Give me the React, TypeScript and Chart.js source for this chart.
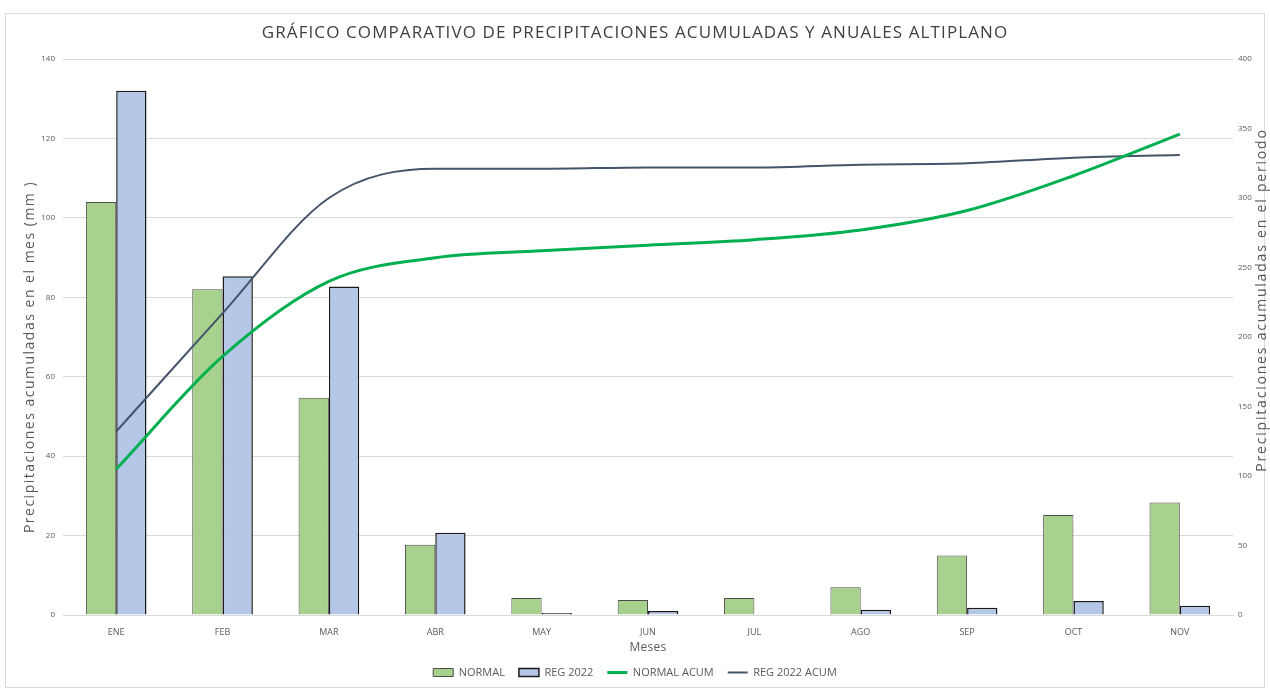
import React, { useEffect, useRef } from "react";
import { Chart, registerables } from "chart.js";

Chart.register(...registerables);

const months = ["ENE", "FEB", "MAR", "ABR", "MAY", "JUN", "JUL", "AGO", "SEP", "OCT", "NOV"];
const normal = [104, 82, 54.7, 17.7, 4.3, 3.8, 4.3, 7, 15, 25.2, 28.3];
const reg2022 = [132, 85.3, 82.7, 20.7, 0.5, 1, 0, 1.3, 1.8, 3.5, 2.3];
const normalAcum = [105, 186, 240, 257, 262, 266, 270, 277, 291, 316, 346];
const regAcum = [132, 217, 300, 321, 321, 322, 322, 324, 325, 329, 331];

const titleText = "GRÁFICO COMPARATIVO DE PRECIPITACIONES ACUMULADAS Y ANUALES ALTIPLANO";
const leftTitle = "Precipitaciones acumuladas en el mes (mm )";
const rightTitle = "Precipitaciones acumuladas en el periodo";
const xTitle = "Meses";

const FONT = "'Open Sans', 'Liberation Sans', sans-serif";

const extrasPlugin = {
  id: "extras",
  beforeDraw(chart: any) {
    const ctx = chart.ctx;
    ctx.save();
    ctx.fillStyle = "#ffffff";
    ctx.fillRect(0, 0, chart.width, chart.height);
    ctx.strokeStyle = "#d9d9d9";
    ctx.lineWidth = 1;
    ctx.strokeRect(5.5, 13.5, chart.width - 11, chart.height - 14);
    ctx.restore();
  },
  afterDraw(chart: any) {
    const ctx = chart.ctx;
    const area = chart.chartArea;
    ctx.save();
    ctx.textAlign = "center";
    ctx.textBaseline = "middle";
    // main title
    ctx.fillStyle = "#404040";
    ctx.font = `17px ${FONT}`;
    (ctx as any).letterSpacing = "1.1px";
    ctx.fillText(titleText, chart.width / 2, 33);
    // x axis title
    ctx.fillStyle = "#595959";
    ctx.font = `12px ${FONT}`;
    (ctx as any).letterSpacing = "0.3px";
    ctx.fillText(xTitle, (area.left + area.right) / 2, 648);
    // left axis title
    ctx.font = `14px ${FONT}`;
    (ctx as any).letterSpacing = "1.5px";
    ctx.save();
    ctx.translate(30, 357);
    ctx.rotate(-Math.PI / 2);
    ctx.fillText(leftTitle, 0, 0);
    ctx.restore();
    // right axis title
    (ctx as any).letterSpacing = "1.8px";
    ctx.save();
    ctx.translate(1262, 300);
    ctx.rotate(-Math.PI / 2);
    ctx.fillText(rightTitle, 0, 0);
    ctx.restore();
    ctx.restore();
  },
};

export default function App() {
  const ref = useRef<HTMLCanvasElement | null>(null);

  useEffect(() => {
    if (!ref.current) return;
    const chart = new Chart(ref.current, {
      type: "bar",
      data: {
        labels: months,
        datasets: [
          {
            type: "bar",
            label: "NORMAL",
            data: normal,
            backgroundColor: "#a9d18e",
            borderColor: "#4d4d4d",
            borderWidth: 1,
            yAxisID: "y",
            order: 1,
            pointStyle: "rect",
          },
          {
            type: "bar",
            label: "REG 2022",
            data: reg2022,
            backgroundColor: "#b4c7e7",
            borderColor: "#1a1a1a",
            borderWidth: 1.5,
            yAxisID: "y",
            order: 1,
            pointStyle: "rect",
          },
          {
            type: "line",
            label: "NORMAL ACUM",
            data: normalAcum,
            borderColor: "#00b050",
            backgroundColor: "#00b050",
            borderWidth: 3,
            pointRadius: 0,
            cubicInterpolationMode: "monotone",
            yAxisID: "y1",
            order: 0,
            pointStyle: "line",
          },
          {
            type: "line",
            label: "REG 2022 ACUM",
            data: regAcum,
            borderColor: "#44546a",
            backgroundColor: "#44546a",
            borderWidth: 2,
            pointRadius: 0,
            cubicInterpolationMode: "monotone",
            yAxisID: "y1",
            order: 0,
            pointStyle: "line",
          },
        ] as any,
      },
      options: {
        animation: false,
        responsive: false,
        maintainAspectRatio: false,
        layout: { padding: { top: 59, left: 0, right: 0, bottom: 0 } },
        datasets: {
          bar: { categoryPercentage: 0.57, barPercentage: 1.0 },
        },
        plugins: {
          title: { display: false },
          tooltip: { enabled: false },
          legend: {
            position: "bottom",
            labels: {
              usePointStyle: true,
              pointStyleWidth: 20,
              boxHeight: 8,
              padding: 14,
              color: "#595959",
              font: { family: FONT, size: 11 },
              sort: (a: any, b: any) => a.datasetIndex - b.datasetIndex,
            },
          },
        },
        scales: {
          x: {
            grid: { display: false, drawTicks: false },
            border: { display: true, color: "#d9d9d9" },
            ticks: { color: "#595959", font: { family: FONT, size: 9 }, padding: 12, maxRotation: 0 },
            title: { display: false },
            afterFit: (s: any) => {
              s.height = 38;
            },
          },
          y: {
            position: "left",
            min: 0,
            max: 140,
            ticks: { stepSize: 20, color: "#595959", font: { family: FONT, size: 8 }, padding: 8 },
            grid: { color: "#d9d9d9", drawTicks: false },
            border: { display: false },
            title: { display: false },
            afterFit: (s: any) => {
              s.width = 63;
            },
          },
          y1: {
            position: "right",
            min: 0,
            max: 400,
            ticks: { stepSize: 50, color: "#595959", font: { family: FONT, size: 8 }, padding: 5 },
            grid: { display: false, drawTicks: false },
            border: { display: false },
            afterFit: (s: any) => {
              s.width = 37;
            },
          },
        },
      } as any,
      plugins: [extrasPlugin],
    });
    return () => chart.destroy();
  }, []);

  return (
    <div style={{ position: "absolute", left: 0, top: 0, width: 1270, height: 688, background: "#fff" }}>
      <canvas ref={ref} width={1270} height={688} style={{ display: "block" }} />
    </div>
  );
}
